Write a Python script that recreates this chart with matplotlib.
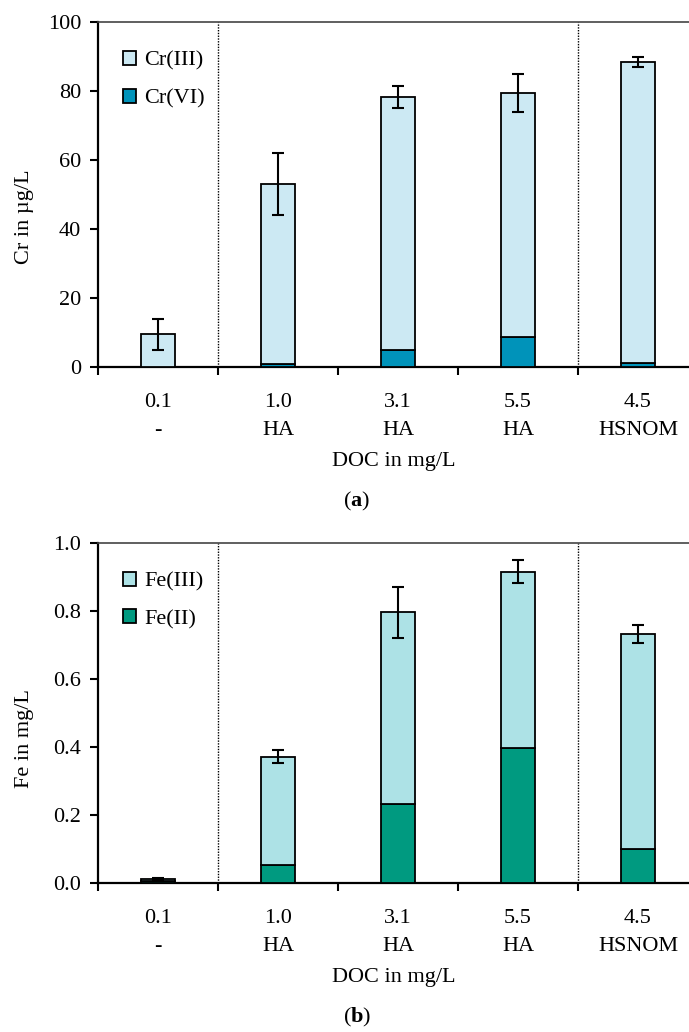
import matplotlib
matplotlib.use("Agg")
import matplotlib.pyplot as plt
import numpy as np

plt.rcParams['font.family'] = ['Liberation Serif', 'DejaVu Serif']
plt.rcParams['mathtext.fontset'] = 'custom'
plt.rcParams['mathtext.rm'] = 'Liberation Serif'
plt.rcParams['mathtext.bf'] = 'Liberation Serif:bold'

# categories (DOC value / NOM type)
doc_values = ['0.1', '1.0', '3.1', '5.5', '4.5']
nom_types = ['-', 'HA', 'HA', 'HA', 'HSNOM']

# panel (a): Cr in ug/L
cr_vi = [0.0, 1.0, 4.9, 8.6, 1.25]
cr_total = [9.5, 53.0, 78.3, 79.3, 88.4]
cr_err = [4.5, 9.0, 3.1, 5.5, 1.5]

# panel (b): Fe in mg/L
fe_ii = [0.005, 0.054, 0.231, 0.398, 0.099]
fe_total = [0.012, 0.371, 0.796, 0.916, 0.733]
fe_err = [0.004, 0.019, 0.074, 0.035, 0.027]

FS = 16
x = np.arange(len(doc_values))
width = 0.28


def draw_panel(ax, low, total, err, low_label, high_label, low_color, high_color,
               ymax, yticks, yfmt, ylabel, ylabel_pos):
    high = np.array(total) - np.array(low)
    b_low = ax.bar(x, low, width, color=low_color, edgecolor='black', linewidth=1.3,
                   label=low_label, zorder=3)
    b_high = ax.bar(x, high, width, bottom=low, color=high_color, edgecolor='black',
                    linewidth=1.3, label=high_label, zorder=3)
    ax.errorbar(x, total, yerr=err, fmt='none', ecolor='black', elinewidth=1.5,
                capsize=4.2, capthick=1.5, zorder=4)

    for xv in [0.5, 3.5]:
        ax.axvline(xv, color='black', linestyle=(0, (1, 1)), linewidth=1.0, zorder=1)

    ax.set_xlim(-0.5, 4.425)
    ax.set_ylim(0, ymax)
    ax.set_yticks(yticks)
    ax.set_yticklabels([yfmt.format(v) for v in yticks], fontsize=FS)
    ax.set_xticks(x)
    ax.set_xticklabels([f'{d}\n{n}' for d, n in zip(doc_values, nom_types)],
                       fontsize=FS, linespacing=1.6)
    ax.set_xticks(np.arange(-0.5, 4.0, 1.0), minor=True)
    ax.tick_params(axis='x', which='major', length=0, pad=19)
    ax.tick_params(axis='x', which='minor', length=6, width=1.5, direction='out')
    ax.tick_params(axis='y', length=6, width=1.5, direction='out', pad=6)
    ax.set_xlabel('DOC in mg/L', fontsize=FS, labelpad=9)
    ax.set_ylabel(ylabel, fontsize=FS)
    ax.yaxis.set_label_coords(-0.108, ylabel_pos)

    for side in ['left', 'bottom']:
        ax.spines[side].set_linewidth(1.6)
        ax.spines[side].set_color('black')
    ax.spines['top'].set_linewidth(1.2)
    ax.spines['top'].set_color('#444444')
    ax.spines['right'].set_visible(False)

    ax.legend([b_high, b_low], [high_label, low_label], loc='upper left',
              bbox_to_anchor=(0.02, 0.955), frameon=False, fontsize=FS,
              handlelength=0.6, handleheight=0.6, handletextpad=0.35,
              labelspacing=0.8, borderaxespad=0.2)


fig = plt.figure(figsize=(6.89, 10.32), dpi=100)
ax1 = fig.add_axes([0.1422, 0.6444, 0.8578, 0.3343])
ax2 = fig.add_axes([0.1422, 0.1444, 0.8578, 0.3294])

draw_panel(ax1, cr_vi, cr_total, cr_err, 'Cr(VI)', 'Cr(III)', '#0093ba', '#cce9f3',
           100, [0, 20, 40, 60, 80, 100], '{:.0f}', 'Cr in µg/L', 0.435)
draw_panel(ax2, fe_ii, fe_total, fe_err, 'Fe(II)', 'Fe(III)', '#009a80', '#ade2e6',
           1.0, [0.0, 0.2, 0.4, 0.6, 0.8, 1.0], '{:.1f}', 'Fe in mg/L', 0.426)

fig.text(357 / 689, 1 - 501 / 1032, r'($\mathbf{a}$)', ha='center', va='center', fontsize=FS)
fig.text(357 / 689, 1 - 1017 / 1032, r'($\mathbf{b}$)', ha='center', va='center', fontsize=FS)

fig.savefig('out.png', dpi=100)
